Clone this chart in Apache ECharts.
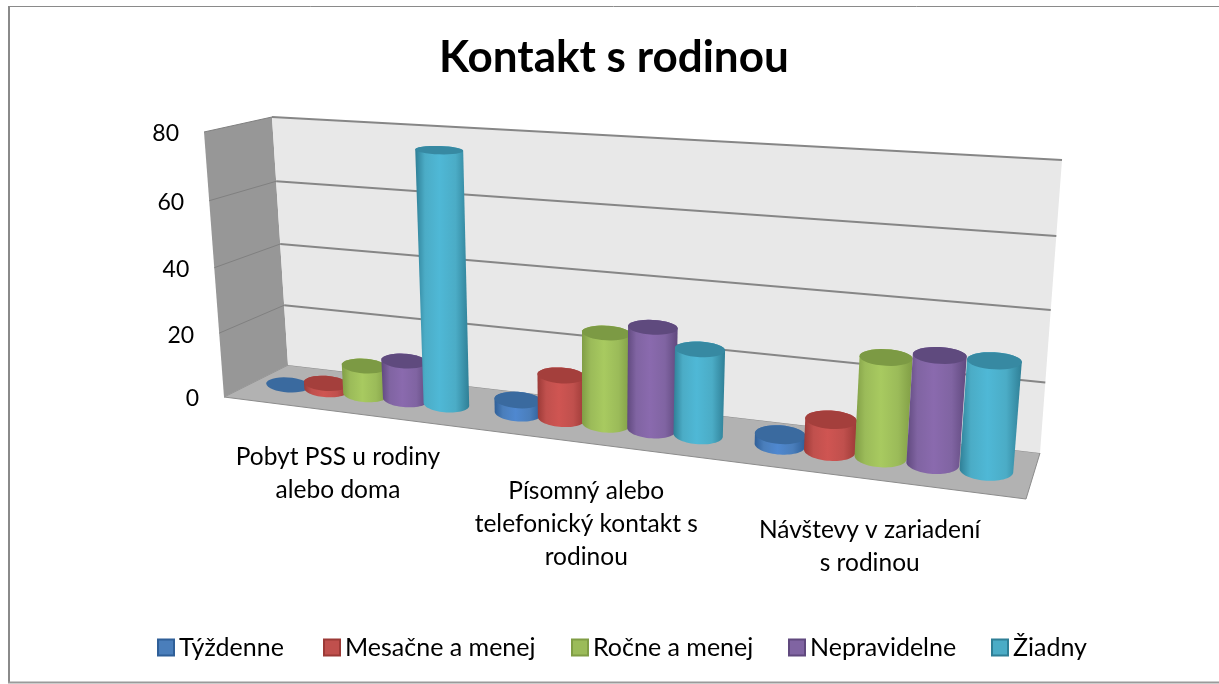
<!DOCTYPE html>
<html>
<head>
<meta charset="utf-8">
<title>Kontakt s rodinou</title>
<style>
    html, body { margin: 0; padding: 0; background: #fff; }
    #chart { width: 1219px; height: 684px; }
</style>
<script src="https://cdn.jsdelivr.net/npm/echarts@6/dist/echarts.min.js"></script>
</head>
<body>
<div id="chart"></div>
<script>
var categories = ['Pobyt PSS u rodiny\nalebo doma', 'Písomný alebo\ntelefonický kontakt s\nrodinou', 'Návštevy v zariadení\ns rodinou'];
var seriesNames = ['Týždenne', 'Mesačne a menej', 'Ročne a menej', 'Nepravidelne', 'Žiadny'];
var tyzdenne = [0, 4, 3];
var mesacne = [2, 13, 9];
var rocne = [9, 27, 28];
var nepravidelne = [12, 30, 30];
var ziadny = [76, 25, 30];
var yTicks = [0, 20, 40, 60, 80];

var fontName = 'Lato';
var legendLeft = [157, 323, 571, 788, 991];
// base, top, side edge, side highlight
var palette = [
    ['#4a7ebb', '#3a6a9f', '#2f5f98', '#4f88d0'],
    ['#c0504d', '#a43f3c', '#9c3a37', '#cf5552'],
    ['#9bbb59', '#7c9a44', '#809d45', '#a8ca60'],
    ['#8064a2', '#5f4a7e', '#60497e', '#8a6aae'],
    ['#4bacc6', '#3789a2', '#2f7f96', '#4fb8d6']
];

// the plot box as it lies on the page: front/back, left/right, bottom/top
var box = {
    flb: [224, 397], flt: [204, 132],
    blb: [288, 365], blt: [272, 117],
    brb: [1040, 453], brt: [1062, 160],
    frb: [1026, 499], frt: [1053, 184]
};
var perspectiveU = 1.22;
var perspectiveV = 1.05;
var seriesStep = 0.0585;
var discDepth = 0.23;

function mix(a, b, t) {
    return [a[0] + (b[0] - a[0]) * t, a[1] + (b[1] - a[1]) * t];
}
function warp(t, q) {
    return t / (t + q * (1 - t));
}
// u along categories, v up the value axis, d into the page, all 0..1
function project(u, v, d) {
    var w = warp(u, perspectiveU);
    var h = warp(v, perspectiveV);
    var bottom = mix(mix(box.flb, box.frb, w), mix(box.blb, box.brb, w), d);
    var top = mix(mix(box.flt, box.frt, w), mix(box.blt, box.brt, w), d);
    return mix(bottom, top, h);
}
// read the normalised position back from the cartesian scales
function toUnit(params, api, cat, val) {
    var p = api.coord([cat, val]);
    var c = params.coordSys;
    return [(p[0] - c.x) / c.width, (c.y + c.height - p[1]) / c.height];
}
// ellipse keeps the slope of the floor edge but is not sheared by the depth
function disc(u, v, from, to) {
    var c = project(u, v, 0.5);
    var r = seriesStep * (0.575 - 0.085 * u);
    var a = project(u - r, v, 0.5);
    var b = project(u + r, v, 0.5);
    var ry = Math.abs(project(u, v, 0.5 + discDepth)[1] - project(u, v, 0.5 - discDepth)[1]) / 2;
    var pts = [];
    for (var i = 0; i <= 32; i++) {
        var t = from + (to - from) * i / 32;
        pts.push([
            c[0] + Math.cos(t) * (b[0] - a[0]) / 2,
            c[1] + Math.cos(t) * (b[1] - a[1]) / 2 * 0.5 - Math.sin(t) * ry
        ]);
    }
    return pts;
}

function renderWalls(params, api) {
    return {
        type: 'group',
        silent: true,
        children: [
            { type: 'polygon', shape: { points: [project(0, 0, 0), project(1, 0, 0), project(1, 0, 1), project(0, 0, 1)] }, style: { fill: '#b2b2b2', stroke: '#8c8c8c', lineWidth: 1 } },
            { type: 'polygon', shape: { points: [project(0, 0, 0), project(0, 1, 0), project(0, 1, 1), project(0, 0, 1)] }, style: { fill: '#979797' } },
            { type: 'polygon', shape: { points: [project(0, 0, 1), project(0, 1, 1), project(1, 1, 1), project(1, 0, 1)] }, style: { fill: '#e8e8e8' } }
        ]
    };
}

function renderTick(params, api) {
    var val = api.value(0);
    var v = toUnit(params, api, 0, val)[1];
    var left = project(0, v, 0);
    var back = project(0, v, 1);
    var right = project(1, v, 1);
    var children = [{
        type: 'text',
        style: {
            x: left[0] - 25, y: left[1] + 2, text: String(val), align: 'right', verticalAlign: 'middle',
            fontFamily: fontName, fontSize: 23, fill: '#000'
        }
    }];
    if (val > 0) {
        children.push({ type: 'line', shape: { x1: left[0], y1: left[1], x2: back[0], y2: back[1] }, style: { stroke: '#808080', lineWidth: 1 } });
        children.push({ type: 'line', shape: { x1: back[0], y1: back[1], x2: right[0], y2: right[1] }, style: { stroke: '#868686', lineWidth: 2 } });
    }
    return { type: 'group', silent: true, children: children };
}

function renderCategory(params, api) {
    var cat = api.value(0);
    var u = toUnit(params, api, cat, 0)[0];
    var edge = project(u, 0, 0);
    return {
        type: 'text',
        silent: true,
        style: {
            x: edge[0] + 1, y: edge[1] + 28 + 8 * u, text: categories[cat], align: 'center', verticalAlign: 'top',
            fontFamily: fontName, fontSize: 24.5, lineHeight: 33, fill: '#000'
        }
    };
}

function cylinderRenderer(s) {
    return function (params, api) {
        var cat = api.value(0);
        var val = api.value(1);
        var base = toUnit(params, api, cat, 0);
        var v = toUnit(params, api, cat, val)[1];
        var u = base[0] + (s - 2) * seriesStep;
        var col = palette[s];
        var children = [];
        if (val > 0) {
            var body = disc(u, 0, Math.PI, Math.PI * 2).concat(disc(u, v, 0, Math.PI));
            children.push({
                type: 'polygon',
                shape: { points: body },
                style: {
                    fill: new echarts.graphic.LinearGradient(0, 0, 1, 0, [
                        { offset: 0, color: col[2] },
                        { offset: 0.18, color: col[0] },
                        { offset: 0.45, color: col[3] },
                        { offset: 0.75, color: col[0] },
                        { offset: 1, color: col[2] }
                    ])
                }
            });
        }
        children.push({
            type: 'polygon',
            shape: { points: disc(u, v, 0, Math.PI * 2) },
            style: { fill: col[1] }
        });
        return { type: 'group', silent: true, children: children };
    };
}

var valueLists = [tyzdenne, mesacne, rocne, nepravidelne, ziadny];
var series = [
    { type: 'custom', name: 'walls', coordinateSystem: 'cartesian2d', data: [[0, 0]], renderItem: renderWalls, clip: false, z: 1 },
    { type: 'custom', name: 'ticks', coordinateSystem: 'cartesian2d', data: yTicks.map(function (t) { return [t]; }), encode: { y: 0 }, renderItem: renderTick, clip: false, z: 2 },
    { type: 'custom', name: 'labels', coordinateSystem: 'cartesian2d', data: categories.map(function (c, i) { return [i, 0]; }), renderItem: renderCategory, clip: false, z: 2 }
];
seriesNames.forEach(function (name, s) {
    series.push({
        type: 'custom',
        name: name,
        coordinateSystem: 'cartesian2d',
        data: valueLists[s].map(function (val, i) { return [i, val]; }),
        renderItem: cylinderRenderer(s),
        clip: false,
        z: 3 + s,
        itemStyle: { color: palette[s][0], borderColor: palette[s][2], borderWidth: 1.5 }
    });
});

var myChart = echarts.init(document.getElementById('chart'));
myChart.setOption({
    animation: false,
    backgroundColor: '#fff',
    title: {
        text: 'Kontakt s rodinou',
        left: 434,
        top: 31,
        textStyle: { fontFamily: fontName, fontWeight: 'bold', fontSize: 44, color: '#000' }
    },
    // one legend per entry, the gaps in the picture are uneven
    legend: seriesNames.map(function (name, s) {
        return {
            data: [name],
            left: legendLeft[s] - 5,
            top: 630,
            icon: 'rect',
            itemWidth: 16,
            itemHeight: 16,
            textStyle: { fontFamily: fontName, fontSize: 25, color: '#000' }
        };
    }),
    grid: { left: 200, right: 150, top: 130, bottom: 180 },
    xAxis: { type: 'category', data: categories, show: false },
    yAxis: { type: 'value', min: 0, max: 80, interval: 20, show: false },
    graphic: [
        { type: 'line', silent: true, shape: { x1: 9, y1: 6, x2: 9, y2: 682 }, style: { stroke: '#8a8a8a', lineWidth: 2 } },
        { type: 'line', silent: true, shape: { x1: 8, y1: 6.5, x2: 1219, y2: 6.5 }, style: { stroke: '#8a8a8a', lineWidth: 1 } },
        { type: 'line', silent: true, shape: { x1: 8, y1: 682.5, x2: 1219, y2: 682.5 }, style: { stroke: '#9a9a9a', lineWidth: 2 } }
    ],
    series: series
});
</script>
</body>
</html>
